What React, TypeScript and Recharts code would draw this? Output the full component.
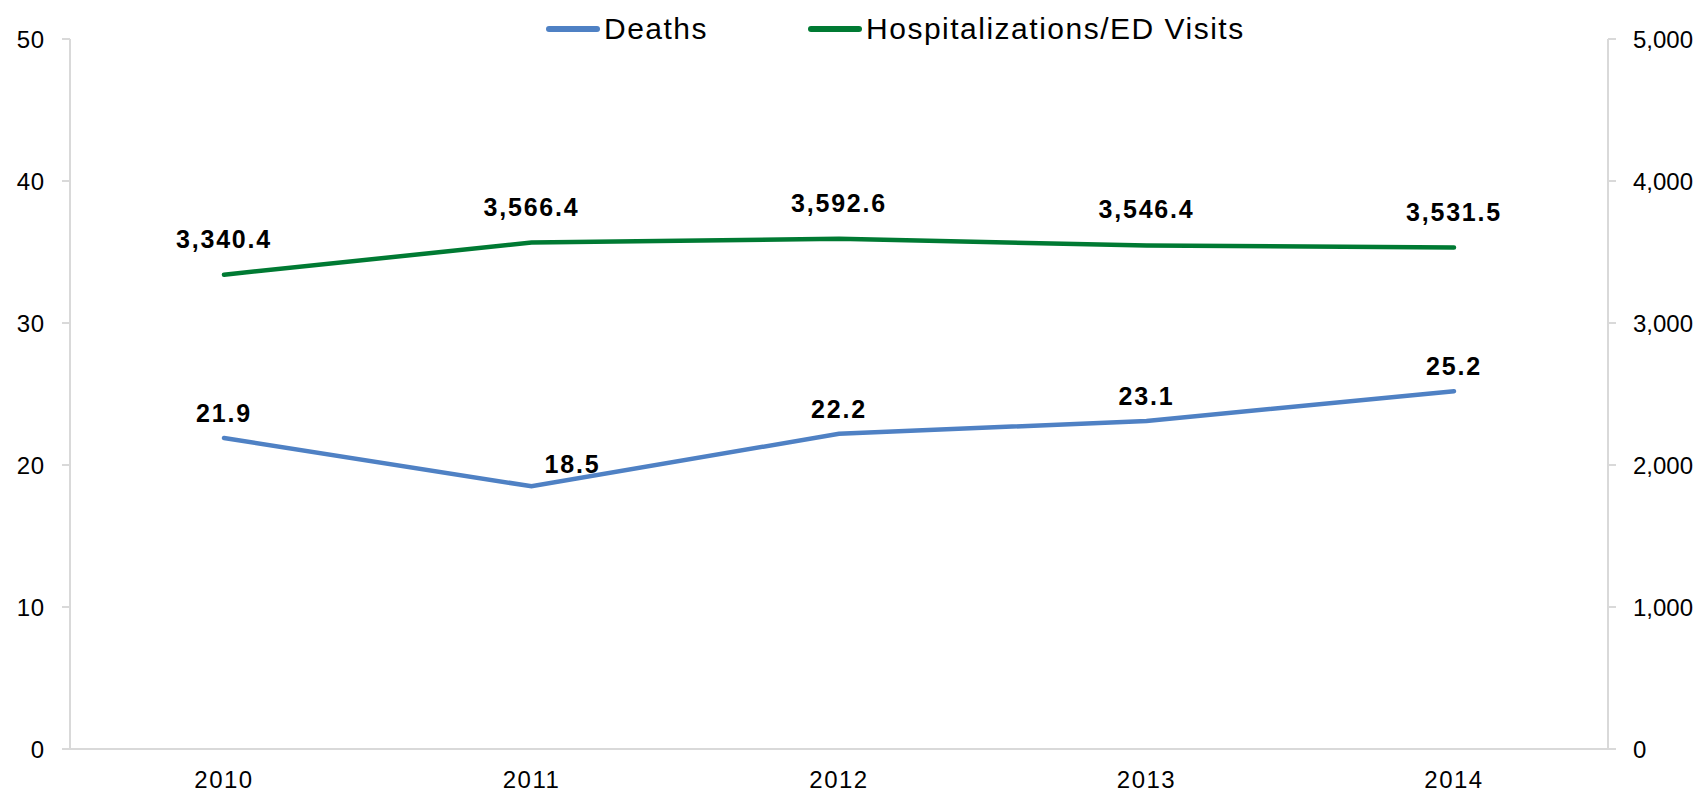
import { LineChart, Line, XAxis, YAxis, Legend, LabelList } from 'recharts'

const years = ['2010', '2011', '2012', '2013', '2014']
const deaths = [21.9, 18.5, 22.2, 23.1, 25.2]
const hospitalizations = [3340.4, 3566.4, 3592.6, 3546.4, 3531.5]
const leftTicks = [0, 10, 20, 30, 40, 50]
const rightTicks = [0, 1000, 2000, 3000, 4000, 5000]

const data = years.map((year, i) => ({
    year,
    deaths: deaths[i],
    hosp: hospitalizations[i],
}))

const BLUE = '#4f81c4'
const GREEN = '#007a33'
const AXIS = '#d9d9d9'
const FONT = "'Liberation Sans', Arial, sans-serif"

const fmt = (v: number, digits = 0) =>
    v.toLocaleString('en-US', { minimumFractionDigits: digits, maximumFractionDigits: digits })

function DeathLabel(props: any) {
    const { x, y, value, index } = props
    // 2011 label sits right of the dip, like in the original
    const dx = index === 1 ? 41 : 0
    const dy = index === 1 ? -13 : -16
    return (
        <text x={x + dx} y={y + dy} textAnchor="middle" fontSize={25} fontWeight="bold" letterSpacing={1.8} fill="#000" fontFamily={FONT}>
            {fmt(value, 1)}
        </text>
    )
}

function HospLabel(props: any) {
    const { x, y, value } = props
    return (
        <text x={x} y={y - 27} textAnchor="middle" fontSize={25} fontWeight="bold" letterSpacing={1.8} fill="#000" fontFamily={FONT}>
            {fmt(value, 1)}
        </text>
    )
}

function LegendRow() {
    const items = [
        { name: 'Deaths', color: BLUE },
        { name: 'Hospitalizations/ED Visits', color: GREEN },
    ]
    return (
        <div style={{ display: 'flex', gap: 100, fontFamily: FONT, fontSize: 30, letterSpacing: 1.5, lineHeight: '34px', color: '#000', whiteSpace: 'nowrap' }}>
            {items.map((it) => (
                <div key={it.name} style={{ display: 'flex', alignItems: 'center' }}>
                    <span style={{ display: 'inline-block', width: 54, height: 6, borderRadius: 3, background: it.color, marginRight: 4 }} />
                    {it.name}
                </div>
            ))}
        </div>
    )
}

export default function App() {
    return (
        <div style={{ position: 'absolute', left: 0, top: 0, background: '#fff' }}>
            <LineChart width={1708} height={794} data={data} margin={{ top: 39, right: 0, bottom: 0, left: 0 }}>
                <XAxis
                    dataKey="year"
                    padding={{ left: 154, right: 154 }}
                    axisLine={{ stroke: AXIS, strokeWidth: 2 }}
                    tickLine={false}
                    tickSize={0}
                    tickMargin={22}
                    height={45}
                    tick={{ fill: '#000', fontSize: 24, letterSpacing: 1.5, fontFamily: FONT }}
                />
                <YAxis
                    yAxisId="left"
                    domain={[0, 50]}
                    ticks={leftTicks}
                    width={70}
                    tickSize={8}
                    tickMargin={17}
                    axisLine={{ stroke: AXIS, strokeWidth: 2 }}
                    tickLine={{ stroke: AXIS, strokeWidth: 2 }}
                    tick={{ fill: '#000', fontSize: 24, letterSpacing: 0.8, fontFamily: FONT }}
                />
                <YAxis
                    yAxisId="right"
                    orientation="right"
                    domain={[0, 5000]}
                    ticks={rightTicks}
                    width={100}
                    tickSize={8}
                    tickMargin={17}
                    tickFormatter={(v: number) => fmt(v)}
                    axisLine={{ stroke: AXIS, strokeWidth: 2 }}
                    tickLine={{ stroke: AXIS, strokeWidth: 2 }}
                    tick={{ fill: '#000', fontSize: 24, fontFamily: FONT }}
                />
                <Legend
                    layout="vertical"
                    align="center"
                    verticalAlign="middle"
                    wrapperStyle={{ left: 546, top: 12, width: 'auto' }}
                    content={() => <LegendRow />}
                />
                <Line
                    yAxisId="left"
                    dataKey="deaths"
                    name="Deaths"
                    stroke={BLUE}
                    strokeWidth={4.5}
                    strokeLinecap="round"
                    dot={false}
                    isAnimationActive={false}
                >
                    <LabelList dataKey="deaths" content={DeathLabel} />
                </Line>
                <Line
                    yAxisId="right"
                    dataKey="hosp"
                    name="Hospitalizations/ED Visits"
                    stroke={GREEN}
                    strokeWidth={4.5}
                    strokeLinecap="round"
                    dot={false}
                    isAnimationActive={false}
                >
                    <LabelList dataKey="hosp" content={HospLabel} />
                </Line>
            </LineChart>
        </div>
    )
}
